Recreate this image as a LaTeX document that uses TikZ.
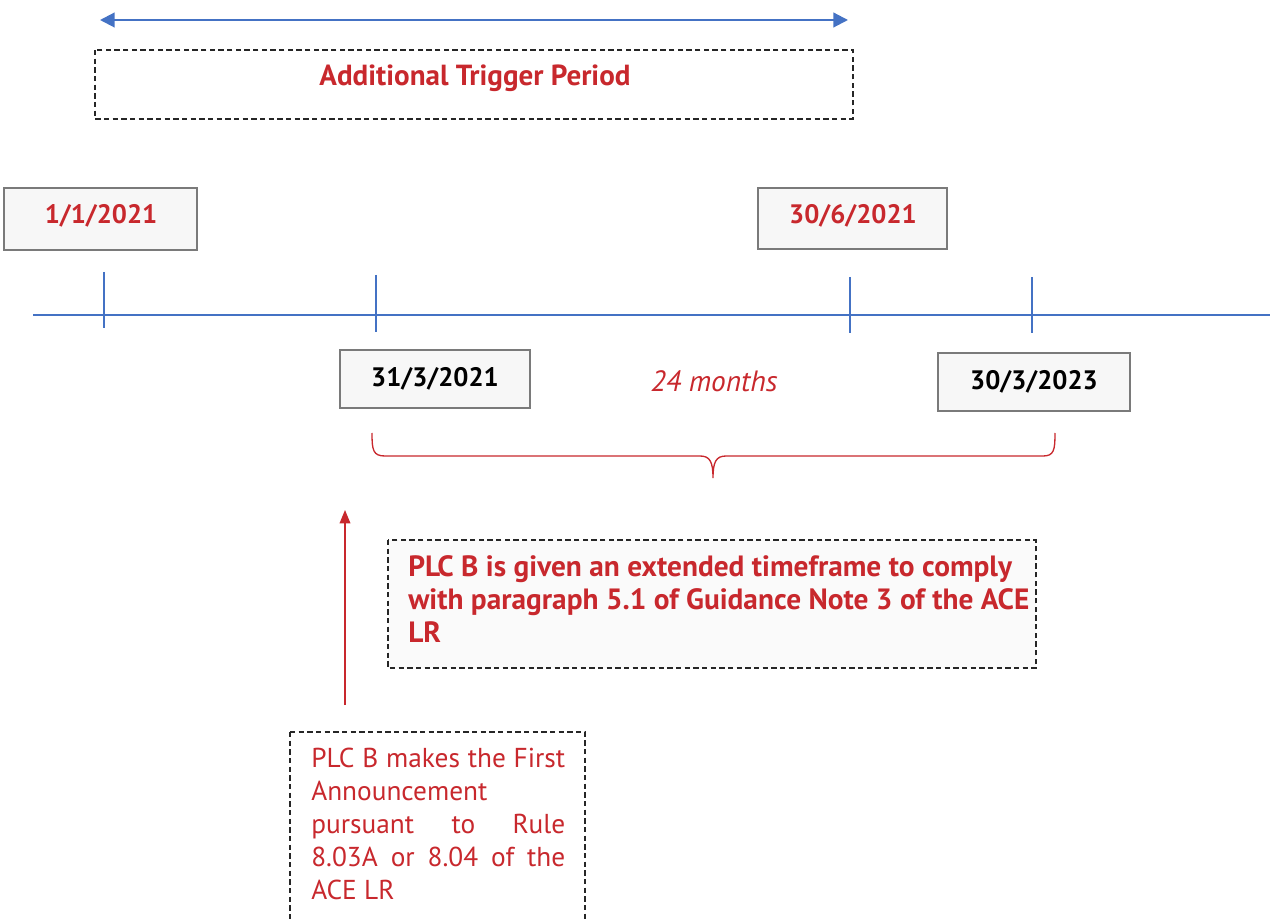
\documentclass[tikz,border=0pt]{standalone}
\usepackage{fontspec}
\setmainfont{PT Sans}
\usetikzlibrary{arrows.meta}
\definecolor{txtred}{HTML}{C8282D}
\definecolor{lineblue}{HTML}{4472C4}
\definecolor{boxgray}{HTML}{7A7A7A}
\tikzset{
  datebox/.style={draw=boxgray, line width=1.5pt, fill=gray!6},
  dashbox/.style={draw=black!85, dashed, dash pattern=on 4pt off 2.5pt, line width=1.3pt, fill=gray!4},
  datetxt/.style={font=\bfseries\fontsize{20}{22}\selectfont, inner sep=0pt},
  tick/.style={draw=lineblue, line width=0.8pt},
}
\begin{document}
\begin{tikzpicture}[x=0.75pt,y=-0.75pt]
\useasboundingbox (0,0) rectangle (1270,919);

% top double arrow
\coordinate (al) at (100,20);
\coordinate (ar) at (848,20);
\draw[lineblue, line width=1.6pt, {Triangle[length=11pt,width=11pt]}-{Triangle[length=11pt,width=11pt]}] (al) -- (ar);

% Additional trigger period
\draw[dashbox, fill=white] (95,50) rectangle (853,119);
\node[text=txtred, font=\bfseries\fontsize{21.8}{24}\selectfont, inner sep=0pt] (atp) at (475,78) {Additional Trigger Period};

% date boxes top
\draw[datebox] (4,188) rectangle (197,250);
\node[datetxt, text=txtred] (d1) at (101,216) {1/1/2021};
\draw[datebox] (758,188) rectangle (947,249);
\node[datetxt, text=txtred] (d2) at (853,216) {30/6/2021};

% timeline
\coordinate (tl) at (33,315);
\coordinate (tr) at (1270,315);
\draw[lineblue, line width=0.9pt] (tl) -- (tr);
\draw[tick] (104,272) -- (104,328);
\draw[tick] (376,275) -- (376,332);
\draw[tick] (850,277) -- (850,333);
\draw[tick] (1032,277) -- (1032,333);

% date boxes bottom
\draw[datebox] (340,350) rectangle (530,408);
\node[datetxt, text=black] (d3) at (435,379) {31/3/2021};
\draw[datebox] (938,353) rectangle (1130,411);
\node[datetxt, text=black] (d4) at (1034,382) {30/3/2023};

\node[text=txtred, font=\itshape\fontsize{22}{24}\selectfont, inner sep=0pt] (m24) at (714,381) {24 months};

% brace
\draw[txtred, line width=1pt] (372,433) .. controls (372,450) and (373,456) .. (385,456) -- (700,456) .. controls (710,456) and (713,462) .. (713,478) .. controls (713,462) and (716,456) .. (726,456) -- (1043,456) .. controls (1054,456) and (1055,450) .. (1055,433);

% red arrow
\coordinate (ab) at (345,705);
\coordinate (at) at (345,510);
\draw[txtred, line width=1pt, -{Triangle[length=10pt,width=8pt]}] (ab) -- (at);

% middle dashed box
\draw[dashbox] (388,540) rectangle (1036,668);
\node[text=txtred, font=\bfseries\fontsize{22}{24.75}\selectfont, align=left, anchor=base west, inner sep=0pt] (ext) at (408,642) {PLC B is given an extended timeframe to comply\\with paragraph 5.1 of Guidance Note 3 of the ACE\\LR};

% bottom dashed box
\draw[dashbox, fill=white] (290,732) -- (290,925) (290,732) -- (585,732) -- (585,925);
\node[text=txtred, font=\fontsize{20.5}{24.75}\selectfont, align=left, anchor=base west, inner sep=0pt] (first) at (311,899) {\makebox[190.5pt][s]{PLC B makes the First}\\Announcement\\\makebox[190.5pt][s]{pursuant to Rule}\\\makebox[190.5pt][s]{8.03A or 8.04 of the}\\ACE LR};
\end{tikzpicture}
\end{document}
